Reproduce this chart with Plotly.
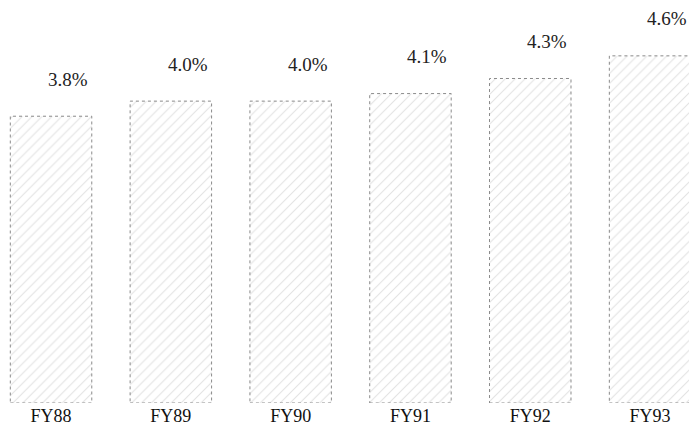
import plotly.graph_objects as go

categories = ["FY88", "FY89", "FY90", "FY91", "FY92", "FY93"]
values = [3.8, 4.0, 4.0, 4.1, 4.3, 4.6]
labels = ["3.8%", "4.0%", "4.0%", "4.1%", "4.3%", "4.6%"]

xs = list(range(len(categories)))
bar_w = 0.68

fig = go.Figure()
fig.add_trace(go.Bar(
    x=xs, y=values, width=bar_w,
    marker=dict(
        color="white",
        line=dict(width=0),
        pattern=dict(shape="/", fgcolor="#c4c4c4", bgcolor="white", size=7, solidity=0.15),
    ),
    hoverinfo="skip",
))

shapes = []
for i, v in enumerate(values):
    shapes.append(dict(type="rect", xref="x", yref="y", x0=i - bar_w / 2, x1=i + bar_w / 2,
                       y0=0, y1=v, line=dict(color="#8a8a8a", width=1, dash="dot")))

annotations = []
for i, (v, t) in enumerate(zip(values, labels)):
    annotations.append(dict(x=i, y=v, text=t, showarrow=False, xshift=17, yshift=37,
                            yanchor="middle", xanchor="center",
                            font=dict(family="Liberation Serif", size=19, color="#222")))

fig.update_layout(
    width=689, height=437,
    margin=dict(l=0, r=0, t=0, b=34),
    paper_bgcolor="white", plot_bgcolor="white",
    showlegend=False,
    shapes=shapes, annotations=annotations,
    xaxis=dict(range=[-0.426, 5.325], tickmode="array", tickvals=xs, ticktext=categories,
               showgrid=False, zeroline=False, showline=False, ticks="",
               tickfont=dict(family="Liberation Serif", size=18, color="#111")),
    yaxis=dict(range=[0, 5.34], visible=False, showgrid=False, zeroline=False),
)

fig.write_html("out.html", config={"displayModeBar": False},
               post_script="document.body.style.margin='0';")
